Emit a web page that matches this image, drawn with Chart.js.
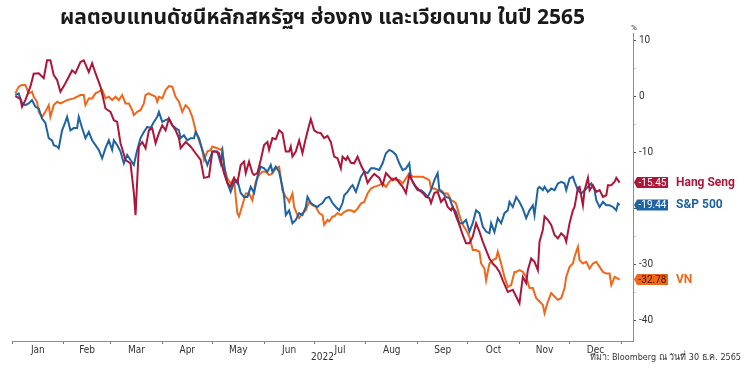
<!DOCTYPE html>
<html>
<head>
<meta charset="utf-8">
<script src="https://cdn.jsdelivr.net/npm/chart.js@4.4.1/dist/chart.umd.min.js"></script>
<style>
html,body{margin:0;padding:0;background:#fff;}
#wrap{width:750px;height:371px;position:relative;}
</style>
</head>
<body>
<div id="wrap"><canvas id="c" width="750" height="371"></canvas></div>
<script>
// ---------- text ----------
const titleText = 'ผลตอบแทนดัชนีหลักสหรัฐฯ ฮ่องกง และเวียดนาม ในปี 2565';
const sourceText = 'ที่มา: Bloomberg ณ วันที่ 30 ธ.ค. 2565';
const yearLabel = '2022';
const unitLabel = '%';
const monthLabels = ['Jan','Feb','Mar','Apr','May','Jun','Jul','Aug','Sep','Oct','Nov','Dec'];
const monthStartDays = [0,31,59,90,120,151,181,212,243,273,304,334,365];
const yTickValues = [-40,-35,-30,-25,-20,-15,-10,-5,0,5,10];
const seriesNames = ['Hang Seng','S&P 500','VN'];

// ---------- series (day of year 2022, % return YTD) ----------
const hsDays = [2,5,6,8,11,13,16,19,21,23,25,27,29,32,36,38,41,43,46,48,50,53,56,59,61,63,65,68,71,73,74,76,78,80,82,84,86,88,90,92,94,96,98,100,101,104,107,110,113,115,118,120,122,124,127,129,131,133,135,137,139,140,142,144,145,147,149,151,153,154,156,158,160,162,164,166,167,168,170,172,174,176,178,179,181,183,185,187,189,191,193,195,197,198,200,201,203,205,207,209,211,213,215,217,220,222,224,226,228,230,232,234,236,238,240,242,244,246,248,250,251,253,255,257,259,261,263,264,266,268,270,272,274,276,278,280,282,284,286,288,290,292,294,297,300,302,304,305,306,308,309,311,313,315,316,318,319,321,323,325,327,329,331,332,334,336,337,339,340,342,343,345,346,348,350,352,354,356,357,359,361,362,364];
const hsValues = [0,-0.5,-1.9,-0.7,1.7,4.0,4.1,3.2,6.4,6.4,3.75,2.9,0.8,2.3,4.6,4.1,6.1,6.4,4.3,5.9,4.1,1.7,-2.2,-2.8,-4.3,-4.6,-8.4,-11.4,-12,-17.3,-21.25,-9.0,-8.2,-9.3,-6.1,-5.7,-8.4,-6.6,-5.2,-6.1,-4.0,-5.2,-6.1,-7.5,-9.3,-8.2,-9.0,-10.2,-11.4,-14.6,-14.4,-9.9,-9.9,-10.2,-13.75,-15.5,-16.2,-14.6,-15.5,-12.3,-11.7,-13.75,-11.7,-13.75,-14.1,-13.75,-11.4,-8.75,-8.2,-9.6,-7.5,-7.7,-6.1,-6.6,-9.9,-9.9,-9.0,-10.8,-9.9,-7.9,-10.2,-7.5,-5.2,-4.1,-6.1,-6.5,-6.6,-7.5,-7.1,-8.2,-10.8,-11.1,-12.9,-10.8,-11.4,-10.8,-11.9,-12,-10.8,-12.3,-13.5,-15.5,-14.6,-13.9,-14.6,-15.9,-13.75,-14.4,-15,-14.6,-15.5,-16.2,-17.3,-14.1,-15.3,-16.2,-16.8,-17.3,-18,-18.2,-19.1,-17.3,-17.1,-18.9,-18.2,-19.8,-20.4,-19.8,-21.5,-23,-24.8,-26.3,-26.3,-25.1,-22.7,-24.2,-26,-27.5,-29,-29.9,-30.5,-31.4,-32.9,-35,-34.6,-35.8,-37,-34.6,-32.3,-33.4,-31.1,-29,-29.6,-31.1,-26,-23.9,-21.5,-22.1,-23,-24.8,-25.4,-24.5,-25.1,-26,-22.7,-20.4,-19.8,-16.4,-16.2,-19.5,-16.8,-14.6,-16.8,-15.9,-17.1,-16.8,-18,-17.7,-15.9,-15.9,-15.3,-14.6,-15.45];

const spDays = [2,4,6,8,10,12,14,16,18,20,22,24,25,27,28,30,32,33,35,37,39,40,42,44,46,48,50,52,54,56,58,60,61,63,65,67,69,71,73,75,77,79,81,83,85,87,88,90,92,94,96,98,100,101,103,105,107,109,110,112,114,116,117,119,120,123,125,126,128,129,131,133,135,137,139,141,143,145,147,149,151,153,155,156,158,160,162,163,164,166,168,170,172,174,176,177,179,181,183,184,186,188,190,192,194,196,198,199,201,203,204,206,207,209,211,213,215,217,220,222,224,226,228,230,232,234,236,238,239,241,243,245,247,249,251,253,255,256,258,260,262,264,266,268,270,272,274,276,278,280,282,284,286,287,289,291,293,295,297,298,300,302,304,306,308,310,312,313,315,316,318,319,321,323,325,327,329,331,332,334,336,337,339,341,343,345,347,349,350,352,354,356,358,360,362,363,364];
const spValues = [0.2,0.5,-1.3,-1.6,-1.3,-0.7,-1.9,-2.2,-4.0,-4.8,-7.5,-7.9,-8.75,-9.0,-9.3,-6.1,-4.6,-3.7,-6.1,-5.7,-5.7,-3.7,-5.7,-7.5,-6.4,-7.9,-8.75,-9.6,-11.1,-9.3,-7.9,-9.6,-7.9,-8.75,-9.9,-12,-10.5,-11.4,-12.3,-9.6,-7.5,-6.4,-5.5,-5.7,-4.6,-3.7,-2.8,-4.6,-4.3,-4.0,-5.2,-5.7,-6.1,-7.5,-7.0,-7.9,-7.5,-7.5,-6.4,-7.5,-9.6,-11.4,-12.3,-10.8,-9.9,-9.9,-12,-9.9,-14.1,-15.5,-17.1,-15.5,-15,-17.3,-18,-18,-16.2,-17.3,-14.4,-12.6,-12.9,-13.5,-12.3,-13.5,-12.6,-13.5,-16.2,-18,-21.25,-20.4,-22.7,-22.1,-20.9,-21.25,-19.8,-18,-19.1,-19.5,-19.8,-19.5,-19.1,-18.2,-18,-19.1,-19.8,-20.4,-19.1,-17.7,-17.1,-16.2,-15.9,-17.1,-16.2,-14.4,-13.5,-13.75,-12.9,-12.9,-13.2,-12,-10.2,-9.6,-9.9,-10.5,-12,-13.2,-12.9,-12,-14.6,-15.9,-16.8,-16.8,-17.3,-18,-16.8,-15,-13.75,-16.8,-17.3,-18,-18.2,-19.8,-20.7,-22.7,-22.7,-22.1,-24.2,-22.7,-20.4,-20.9,-23.3,-24.2,-24.5,-22.7,-24.3,-21.8,-22.7,-20.9,-20.4,-18.9,-19.8,-18,-18.9,-20.1,-21.8,-20.4,-19.5,-21.25,-16.5,-16.2,-16.8,-16.2,-17.1,-16.5,-16.8,-15.6,-15.3,-15.6,-16.8,-14.7,-14.4,-15.3,-16.8,-17.4,-16.8,-16.2,-15.6,-16.8,-18.6,-19.8,-18.9,-19.5,-19.5,-19.8,-20.4,-19.2,-19.44];

const vnDays = [2,4,6,8,10,12,13,15,16,18,20,22,23,25,27,29,33,37,41,43,44,46,48,50,52,54,56,58,60,62,64,66,68,70,72,73,75,77,79,80,82,84,86,87,88,90,92,94,96,98,100,102,104,106,108,110,112,114,115,117,119,120,123,125,126,127,129,131,133,134,135,136,138,140,142,144,146,148,150,152,154,156,158,160,162,164,165,166,168,169,171,172,174,176,178,180,182,184,186,187,189,190,192,193,195,197,199,201,203,205,207,209,211,213,215,217,220,222,224,226,228,230,232,234,236,238,240,242,244,246,248,250,251,253,255,257,259,261,263,265,266,268,270,272,274,276,278,280,281,283,284,286,288,290,291,293,295,297,299,301,302,304,306,308,310,312,314,316,318,319,321,323,325,327,329,331,332,334,336,337,339,340,342,344,346,348,350,352,354,356,358,359,361,363,364];
const vnValues = [0.5,1.7,2.0,2.0,0.5,0.8,-0.1,-1.0,-2.8,-3.7,-2.8,-1.6,-3.7,-1.6,-1.0,-1.3,-0.7,-0.4,0.2,0.2,-1.6,-0.4,-0.4,0.5,0.8,1.1,-0.4,-0.1,-0.7,-0.1,-0.7,0.2,-1.3,-1.3,-2.5,-3.4,-2.8,-2.5,-1.3,0.2,0.5,0.2,-0.1,-1.0,-0.1,-0.4,1.1,1.8,1.7,-0.1,-1.0,-2.8,-1.6,-2.2,-3.7,-6.1,-7.9,-9.6,-11.4,-9.9,-9.6,-9.0,-9.3,-9.6,-9.3,-12.6,-14.7,-15.6,-14.7,-18,-20.9,-21.5,-19.5,-17.4,-17.4,-18.6,-15.3,-14.1,-13.5,-13.5,-14.1,-13.8,-12.9,-12.6,-16.8,-18,-18.3,-18.9,-17.4,-19.8,-21.25,-21.8,-20.9,-20.4,-18.9,-19.5,-19.8,-20.9,-21.25,-23,-22.1,-22.4,-21.5,-21.5,-20.9,-21.25,-20.7,-20.4,-20.4,-20.7,-20.1,-19.2,-18.9,-17.4,-16.5,-16.2,-15.9,-15.6,-16.2,-15.3,-14.7,-15,-15,-15.6,-14.7,-13.8,-14.4,-14.4,-14.4,-14.4,-14.7,-15,-16.5,-16.5,-16.8,-16.8,-17.4,-17.4,-18.6,-18.9,-19.2,-21.25,-23,-23.9,-25.1,-27.5,-27.5,-27.8,-29.9,-30.8,-32.9,-29.9,-29.3,-29,-27.8,-29.9,-32.3,-34.1,-33.75,-31.4,-31.4,-31.1,-31.4,-32.3,-34.3,-34.3,-36.1,-36.7,-37.3,-38.8,-36.7,-35.2,-35.8,-36.4,-36.1,-34.3,-32.3,-30.5,-29.9,-28.7,-26.9,-29.3,-29.9,-29.6,-30.8,-29.9,-29.6,-30.5,-31.4,-31.7,-31.7,-33.75,-32.3,-32.6,-32.78];

// ---------- style ----------
const colors = ['#ad1639', '#1f63a3', '#f0661b'];
const tagTextColors = ['#ffffff', '#ffffff', '#3a1800'];
const axisColor = '#8c8c8c';
const textColor = '#333333';
const uiFont = "'DejaVu Sans Condensed', 'Liberation Sans Narrow', 'Roboto', sans-serif";
const tickFont = "'Roboto', 'Noto Sans', sans-serif";

// ---------- build ----------
const seriesDays = [hsDays, spDays, vnDays];
const seriesValues = [hsValues, spValues, vnValues];
const datasets = seriesNames.map((name, i) => ({
  label: name,
  data: seriesDays[i].map((d, k) => ({ x: d, y: seriesValues[i][k] })),
  borderColor: colors[i],
  borderWidth: 2,
  pointRadius: 0,
  tension: 0,
  fill: false
}));
const lastValues = seriesValues.map(a => a[a.length - 1]);

// x ticks: month boundaries (marks) and mid-months (labels)
const xTicks = [];
for (let m = 0; m < 12; m++) {
  xTicks.push({ value: monthStartDays[m], label: '' });
  xTicks.push({ value: (monthStartDays[m] + monthStartDays[m + 1]) / 2, label: monthLabels[m] });
}
xTicks.push({ value: monthStartDays[12], label: '' });
const xLabelMap = new Map(xTicks.map(t => [t.value, t.label]));

const extrasPlugin = {
  id: 'extras',
  afterDraw(chart) {
    const ctx = chart.ctx;
    const y = chart.scales.y;
    const area = chart.chartArea;
    ctx.save();
    // unit label
    ctx.fillStyle = textColor;
    ctx.font = '8px ' + tickFont;
    ctx.textAlign = 'left';
    ctx.textBaseline = 'middle';
    ctx.fillText(unitLabel, area.right - 2, area.top - 5);
    // tags
    lastValues.forEach((v, i) => {
      const py = y.getPixelForValue(v);
      const x0 = area.right + 1;
      const h = 11, w = 34;
      ctx.fillStyle = colors[i];
      ctx.beginPath();
      ctx.moveTo(x0, py);
      ctx.lineTo(x0 + 3, py - h / 2);
      ctx.lineTo(x0 + w, py - h / 2);
      ctx.lineTo(x0 + w, py + h / 2);
      ctx.lineTo(x0 + 3, py + h / 2);
      ctx.closePath();
      ctx.fill();
      ctx.fillStyle = tagTextColors[i];
      ctx.font = '10px ' + tickFont;
      ctx.textAlign = 'center';
      ctx.textBaseline = 'middle';
      ctx.fillText(v.toFixed(2), x0 + 3 + (w - 3) / 2, py + 0.5);
      ctx.fillStyle = colors[i];
      ctx.font = 'bold 12px ' + tickFont;
      ctx.textAlign = 'left';
      ctx.fillText(seriesNames[i], x0 + w + 8, py + 0.5);
    });
    // source
    ctx.fillStyle = textColor;
    ctx.font = '9px ' + uiFont;
    ctx.textAlign = 'right';
    ctx.textBaseline = 'middle';
    ctx.fillText(sourceText, 741, 358);
    ctx.restore();
  }
};

new Chart(document.getElementById('c'), {
  type: 'line',
  data: { datasets },
  plugins: [extrasPlugin],
  options: {
    responsive: false,
    devicePixelRatio: 1,
    animation: false,
    layout: { padding: { left: 12, right: 0, top: 0, bottom: 0 } },
    plugins: {
      legend: { display: false },
      tooltip: { enabled: false },
      title: {
        display: true,
        text: titleText,
        fullSize: false,
        color: '#1a1a1a',
        font: { family: "'Noto Sans Thai', 'Noto Sans', sans-serif", size: 21, weight: 'bold' },
        padding: { top: 7, bottom: 1 }
      }
    },
    scales: {
      x: {
        type: 'linear',
        min: 0,
        max: 372,
        afterBuildTicks: (axis) => { axis.ticks = xTicks.map(t => ({ value: t.value })); },
        afterFit: (axis) => { axis.height = 30; },
        ticks: {
          autoSkip: false,
          maxRotation: 0,
          minRotation: 0,
          padding: 0,
          color: textColor,
          font: { family: uiFont, size: 10 },
          callback: (v) => xLabelMap.get(v) || ''
        },
        grid: {
          drawOnChartArea: false,
          drawTicks: true,
          tickLength: 3,
          tickColor: (c) => (c.tick && xLabelMap.get(c.tick.value)) ? 'rgba(0,0,0,0)' : '#777'
        },
        border: { display: true, color: axisColor, width: 1 },
        title: {
          display: true,
          text: yearLabel,
          color: textColor,
          font: { family: uiFont, size: 10 },
          padding: { top: 0, bottom: 8 }
        }
      },
      y: {
        type: 'linear',
        position: 'right',
        min: -43.75,
        max: 11.25,
        afterBuildTicks: (axis) => { axis.ticks = yTickValues.map(v => ({ value: v })); },
        afterFit: (axis) => { axis.width = 117; },
        ticks: {
          padding: 3,
          color: textColor,
          font: { family: tickFont, size: 10 },
          callback: (v) => {
            if (v % 10 !== 0) return '';
            if (lastValues.some(lv => Math.abs(lv - v) < 1.5)) return '';
            return String(v);
          }
        },
        grid: {
          drawOnChartArea: false,
          drawTicks: true,
          tickLength: 3,
          tickColor: (c) => (c.tick && c.tick.value % 10 === 0) ? '#555' : '#c8c8c8'
        },
        border: { display: true, color: axisColor, width: 1 }
      }
    }
  }
});
</script>
</body>
</html>
